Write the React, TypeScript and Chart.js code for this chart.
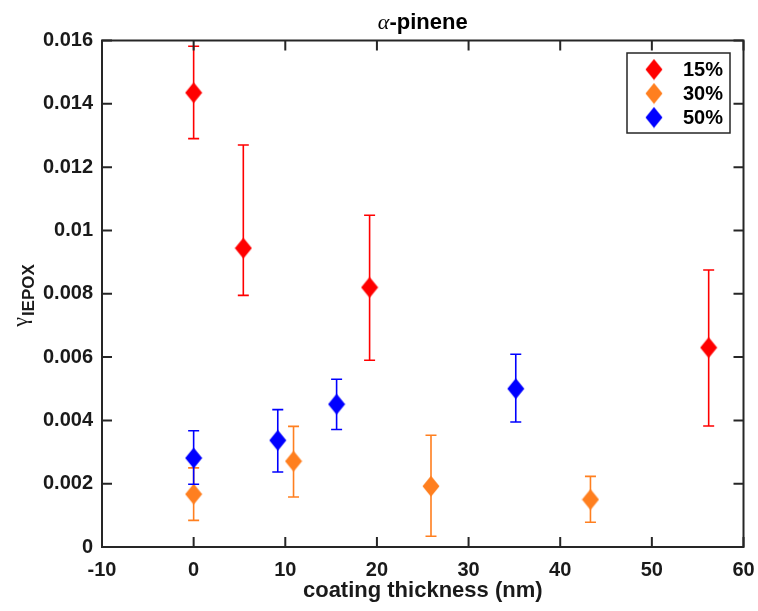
import React, { useEffect, useRef } from "react";
import { Chart, registerables } from "chart.js";
Chart.register(...registerables);

const titleText = "-pinene";
const xTitle = "coating thickness (nm)";
const seriesLabels = ["15%", "30%", "50%"];
const seriesColors = ["#ff0000", "#ff7f1f", "#0000ff"];

const x15 = [0, 5.42, 19.2, 56.2];
const y15 = [0.01435, 0.00944, 0.0082, 0.0063];
const lo15 = [0.0129, 0.00795, 0.0059, 0.00382];
const hi15 = [0.01582, 0.0127, 0.01048, 0.00875];

const x30 = [0, 10.9, 25.9, 43.3];
const y30 = [0.00167, 0.00271, 0.00192, 0.0015];
const lo30 = [0.00084, 0.00158, 0.00034, 0.00078];
const hi30 = [0.0025, 0.00381, 0.00353, 0.00223];

const x50 = [0, 9.18, 15.6, 35.15];
const y50 = [0.00281, 0.00337, 0.00451, 0.005];
const lo50 = [0.00198, 0.00237, 0.00371, 0.00395];
const hi50 = [0.00367, 0.00434, 0.0053, 0.00609];

const xTicks = [-10, 0, 10, 20, 30, 40, 50, 60];
const yTicks = [0, 0.002, 0.004, 0.006, 0.008, 0.01, 0.012, 0.014, 0.016];

const AXIS_COLOR = "#1a1a1a";
const FONT = "'Liberation Sans', Arial, Helvetica, sans-serif";

function makeDiamond(color: string): HTMLCanvasElement {
  const w = 18, h = 22;
  const c = document.createElement("canvas");
  c.width = w;
  c.height = h;
  const g = c.getContext("2d")!;
  g.fillStyle = color;
  g.beginPath();
  g.moveTo(w / 2, 0.5);
  g.lineTo(w - 0.5, h / 2);
  g.lineTo(w / 2, h - 0.5);
  g.lineTo(0.5, h / 2);
  g.closePath();
  g.fill();
  return c;
}

export default function App() {
  const ref = useRef<HTMLCanvasElement | null>(null);

  useEffect(() => {
    if (!ref.current) return;
    const diamonds = seriesColors.map(makeDiamond);
    const xs = [x15, x30, x50];
    const ys = [y15, y30, y50];
    const los = [lo15, lo30, lo50];
    const his = [hi15, hi30, hi50];

    const errorBars = {
      id: "errorBars",
      beforeDatasetDraw(chart: any, args: any) {
        const i = args.index;
        const ctx = chart.ctx;
        const sx = chart.scales.x;
        const sy = chart.scales.y;
        ctx.save();
        ctx.strokeStyle = seriesColors[i];
        ctx.lineWidth = 1.6;
        xs[i].forEach((xv: number, k: number) => {
          const px = sx.getPixelForValue(xv);
          const pl = sy.getPixelForValue(los[i][k]);
          const ph = sy.getPixelForValue(his[i][k]);
          ctx.beginPath();
          ctx.moveTo(px, pl);
          ctx.lineTo(px, ph);
          ctx.moveTo(px - 5.5, pl);
          ctx.lineTo(px + 5.5, pl);
          ctx.moveTo(px - 5.5, ph);
          ctx.lineTo(px + 5.5, ph);
          ctx.stroke();
        });
        ctx.restore();
      },
    };

    const frame = {
      id: "frame",
      afterDraw(chart: any) {
        const ctx = chart.ctx;
        const a = chart.chartArea;
        const sx = chart.scales.x;
        const sy = chart.scales.y;
        ctx.save();
        ctx.strokeStyle = "#262626";
        ctx.lineWidth = 2;
        const tl = 10;
        ctx.beginPath();
        xTicks.forEach((v) => {
          const p = sx.getPixelForValue(v);
          ctx.moveTo(p, a.bottom);
          ctx.lineTo(p, a.bottom - tl);
          ctx.moveTo(p, a.top);
          ctx.lineTo(p, a.top + tl);
        });
        yTicks.forEach((v) => {
          const p = sy.getPixelForValue(v);
          ctx.moveTo(a.left, p);
          ctx.lineTo(a.left + tl, p);
          ctx.moveTo(a.right, p);
          ctx.lineTo(a.right - tl, p);
        });
        ctx.stroke();
        ctx.strokeRect(a.left, a.top, a.right - a.left, a.bottom - a.top);

        // legend
        const lx = 627, ly = 53, lw = 103, lh = 80;
        ctx.fillStyle = "#ffffff";
        ctx.fillRect(lx, ly, lw, lh);
        ctx.lineWidth = 1.5;
        ctx.strokeRect(lx, ly, lw, lh);
        ctx.font = `bold 20px ${FONT}`;
        ctx.textBaseline = "middle";
        ctx.textAlign = "left";
        ctx.fillStyle = "#000000";
        seriesLabels.forEach((lab, i) => {
          const cy = 69.5 + i * 24;
          const d = diamonds[i];
          ctx.drawImage(d, 654 - d.width / 2, cy - d.height / 2);
          ctx.fillText(lab, 683, cy + 1);
        });

        // title
        const cx = (a.left + a.right) / 2;
        ctx.font = `bold 22px ${FONT}`;
        const wRest = ctx.measureText(titleText).width;
        ctx.font = `italic 22px 'Liberation Serif', 'DejaVu Serif', serif`;
        const wA = ctx.measureText("α").width;
        const start = cx - (wA + wRest) / 2;
        ctx.textBaseline = "alphabetic";
        ctx.fillStyle = "#000000";
        ctx.fillText("α", start, 29);
        ctx.font = `bold 22px ${FONT}`;
        ctx.fillText(titleText, start + wA, 29);

        // x title
        ctx.textAlign = "center";
        ctx.textBaseline = "middle";
        ctx.font = `bold 22px ${FONT}`;
        ctx.fillStyle = AXIS_COLOR;
        ctx.fillText(xTitle, cx, 591);

        // y title
        ctx.save();
        ctx.translate(27, 296);
        ctx.rotate(-Math.PI / 2);
        ctx.textAlign = "left";
        ctx.textBaseline = "alphabetic";
        ctx.font = `22px 'Liberation Serif', 'DejaVu Serif', serif`;
        const wg = ctx.measureText("γ").width;
        ctx.font = `bold 17px ${FONT}`;
        const ws = ctx.measureText("IEPOX").width;
        const s0 = -(wg + ws) / 2;
        ctx.font = `22px 'Liberation Serif', 'DejaVu Serif', serif`;
        ctx.fillText("γ", s0, 0);
        ctx.font = `bold 17px ${FONT}`;
        ctx.fillText("IEPOX", s0 + wg + 1, 7);
        ctx.restore();

        ctx.restore();
      },
    };

    const mk = (i: number) => ({
      label: seriesLabels[i],
      data: xs[i].map((x: number, k: number) => ({ x, y: ys[i][k] })),
      pointStyle: diamonds[i],
      backgroundColor: seriesColors[i],
      borderColor: seriesColors[i],
      showLine: false,
      order: 3 - i,
    });

    const chart = new Chart(ref.current, {
      type: "scatter",
      data: { datasets: [mk(0), mk(1), mk(2)] },
      options: {
        animation: false,
        responsive: true,
        maintainAspectRatio: false,
        layout: { padding: { left: 0, right: 14.5, top: 40.5, bottom: 0 } },
        plugins: {
          legend: { display: false },
          title: { display: false },
          tooltip: { enabled: false },
        },
        scales: {
          x: {
            type: "linear",
            min: -10,
            max: 60,
            afterFit: (s: any) => {
              s.height = 64;
              s.paddingLeft = 0;
              s.paddingRight = 0;
            },
            afterBuildTicks: (s: any) => {
              s.ticks = xTicks.map((v) => ({ value: v }));
            },
            grid: { display: false, drawTicks: false },
            border: { display: false },
            ticks: {
              padding: 11,
              color: AXIS_COLOR,
              font: { family: FONT, size: 20, weight: "bold" },
              maxRotation: 0,
            },
          },
          y: {
            type: "linear",
            min: 0,
            max: 0.016,
            afterFit: (s: any) => {
              s.width = 102;
              s.paddingTop = 0;
              s.paddingBottom = 0;
            },
            afterBuildTicks: (s: any) => {
              s.ticks = yTicks.map((v) => ({ value: v }));
            },
            grid: { display: false, drawTicks: false },
            border: { display: false },
            ticks: {
              padding: 9,
              color: AXIS_COLOR,
              font: { family: FONT, size: 20, weight: "bold" },
              callback: (v: any) => String(+Number(v).toFixed(3)),
            },
          },
        },
      },
      plugins: [errorBars, frame],
    } as any);
    return () => chart.destroy();
  }, []);

  return (
    <div style={{ position: "fixed", left: 0, top: 0, width: 758, height: 611, background: "#fff" }}>
      <canvas ref={ref} />
    </div>
  );
}
